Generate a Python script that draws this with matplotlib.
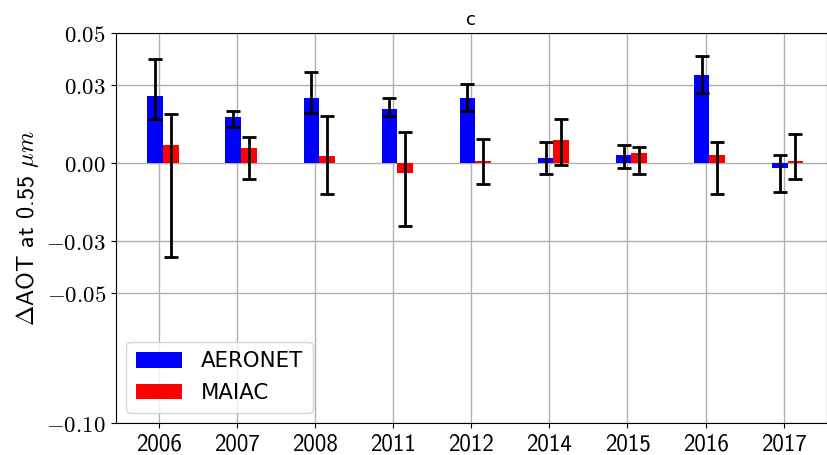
import matplotlib
matplotlib.use("Agg")
import matplotlib.pyplot as plt
import numpy as np

years = ["2006", "2007", "2008", "2011", "2012", "2014", "2015", "2016", "2017"]
aeronet = [0.0260, 0.0179, 0.0250, 0.0210, 0.0250, 0.0022, 0.0031, 0.0341, -0.0018]
aeronet_hi = [0.0401, 0.0202, 0.0352, 0.0251, 0.0304, 0.0082, 0.0072, 0.0413, 0.0032]
aeronet_lo = [0.0172, 0.0141, 0.0192, 0.0181, 0.0202, -0.0040, -0.0019, 0.0272, -0.0110]
maiac = [0.0070, 0.0060, 0.0029, -0.0037, 0.0009, 0.0091, 0.0041, 0.0031, 0.0010]
maiac_hi = [0.0191, 0.0101, 0.0181, 0.0120, 0.0092, 0.0172, 0.0063, 0.0082, 0.0113]
maiac_lo = [-0.0359, -0.0059, -0.0118, -0.0240, -0.0078, -0.0008, -0.0040, -0.0118, -0.0059]
yticks = [-0.10, -0.05, -0.03, 0.00, 0.03, 0.05]

plt.rcParams['mathtext.fontset'] = 'cm'

fig = plt.figure(figsize=(8.27, 4.55), dpi=100)
ax = fig.add_axes([0.1399, 0.0697, 0.8601, 0.8571])
ax.set_axisbelow(True)
ax.grid(True, color='#b0b0b0', lw=1.0)

x = np.arange(len(years))
a = np.array(aeronet); m = np.array(maiac)
a_err = [a - np.array(aeronet_lo), np.array(aeronet_hi) - a]
m_err = [m - np.array(maiac_lo), np.array(maiac_hi) - m]

w = 0.2
ax.bar(x - 0.05, a, width=w, color='blue', label='AERONET', zorder=2)
ax.bar(x + 0.15, m, width=w, color='red', label='MAIAC', zorder=2)
ax.errorbar(x - 0.05, a, yerr=a_err, fmt='none', ecolor='black', elinewidth=2,
            capsize=5, capthick=2, zorder=3)
ax.errorbar(x + 0.15, m, yerr=m_err, fmt='none', ecolor='black', elinewidth=2,
            capsize=5, capthick=2, zorder=3)

ax.set_xlim(-0.556, len(years) - 1 + 0.556)
ax.set_ylim(-0.10, 0.05)
ax.set_xticks(x)
ax.set_xticklabels(years, family='cmss10', fontsize=16.5)
ax.set_yticks(yticks)
ax.set_yticklabels([r'$%.2f$' % v if v != 0 else r'$0.00$' for v in yticks], fontsize=16.5)
ax.set_ylabel(r'$\Delta$AOT at 0.55 $\mu m$', family='cmss10', fontsize=17.5)
ax.set_title('c', fontsize=13, family='DejaVu Sans')
for s in ax.spines.values():
    s.set_color('black')

ax.legend(loc='lower left', prop={'family': 'DejaVu Sans', 'size': 15.3},
          handlelength=2.15, handleheight=0.75, handletextpad=0.9,
          labelspacing=0.55, borderpad=0.45)

fig.savefig('out.png', dpi=100)
